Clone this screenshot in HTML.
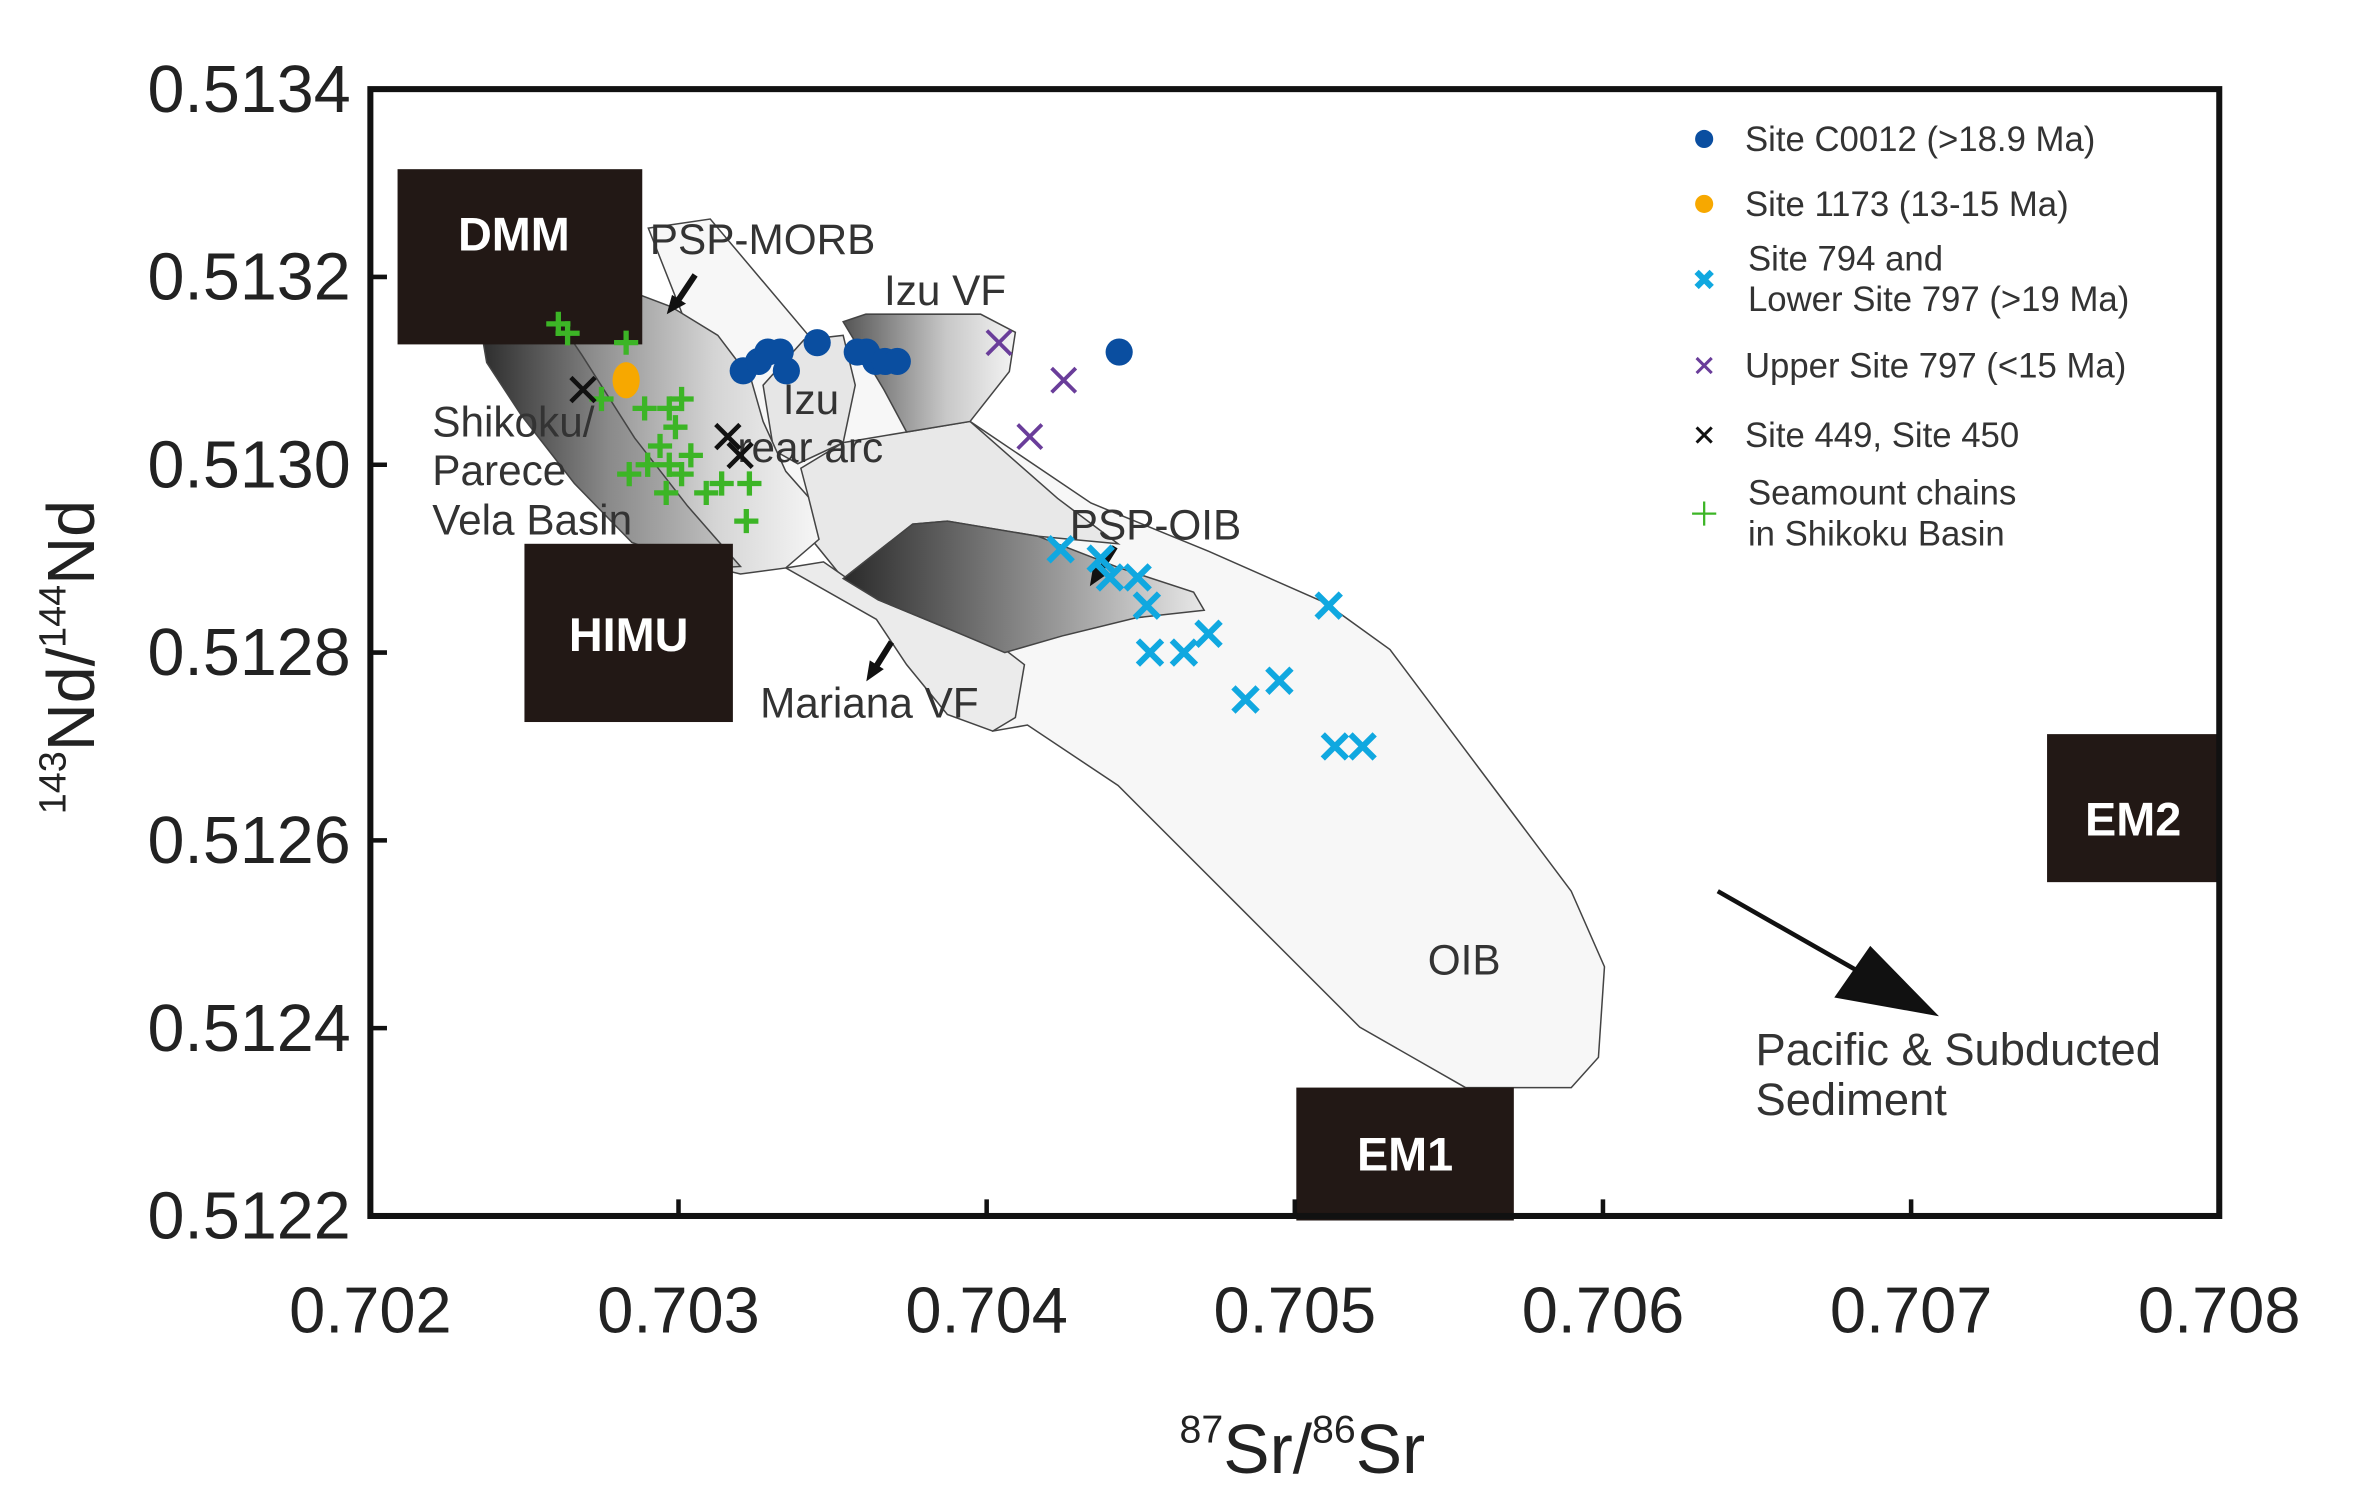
<!DOCTYPE html>
<html><head><meta charset="utf-8"><style>
html,body{margin:0;padding:0;background:#fff;}
svg{display:block;font-family:"Liberation Sans",Arial,sans-serif;}
</style></head><body>
<svg id="chart" width="2357" height="1506" viewBox="0 0 1560 997" xmlns="http://www.w3.org/2000/svg">
<defs>
<linearGradient id="gDark" x1="0" y1="0" x2="1" y2="0"><stop offset="0" stop-color="#2a2a2a"/><stop offset="0.5" stop-color="#8a8a8a"/><stop offset="1" stop-color="#c8c8c8"/></linearGradient>
<linearGradient id="gMid" x1="0" y1="0" x2="1" y2="0"><stop offset="0" stop-color="#777"/><stop offset="0.6" stop-color="#d4d4d4"/><stop offset="1" stop-color="#f6f6f6"/></linearGradient>
<linearGradient id="gIzu" x1="0" y1="0" x2="1" y2="0"><stop offset="0" stop-color="#555"/><stop offset="0.6" stop-color="#c8c8c8"/><stop offset="1" stop-color="#f4f4f4"/></linearGradient>
<linearGradient id="gOib" x1="0" y1="0" x2="1" y2="0"><stop offset="0" stop-color="#2a2a2a"/><stop offset="0.6" stop-color="#9a9a9a"/><stop offset="1" stop-color="#e8e8e8"/></linearGradient>
</defs>
<rect x="0" y="0" width="1560" height="997" fill="#fff"/>
<g id="fields">
<path d="M429,151 L470,145 L535,222 L642,279 L722,333 L800,365 L877,399 L920,430 L980,510 L1040,590 L1062,640 L1058,700 L1040,720 L970,720 L900,680 L820,600 L740,520 L680,480 L657,484 L620,440 L560,385 L537,357 L520,330 L480,280 Z" fill="#f7f7f7" stroke="#444" stroke-width="1"/>
<path d="M530,310 L558,293 L600,286 L642,279 L700,330 L740,360 L687,355 L627,345 L604,347 L558,383 L537,357 L535,329 Z" fill="#e8e8e8" stroke="#444" stroke-width="1"/>
<path d="M520,376 L545,372 L581,397 L627,416 L665,430 L678,440 L672,475 L657,484 L627,473 L600,440 L580,410 Z" fill="#ebebeb" stroke="#444" stroke-width="1"/>
<path d="M505,255 L532,225 L558,222 L566,255 L558,293 L528,307 L512,298 Z" fill="#e6e6e6" stroke="#444" stroke-width="1"/>
<path d="M558,213 L573,208 L649,208 L672,220 L668,246 L642,279 L600,286 L585,258 Z" fill="url(#gIzu)" stroke="#444" stroke-width="1"/>
<path d="M558,383 L604,347 L627,345 L687,355 L741,376 L790,392 L797,404 L752,409 L703,421 L665,432 L627,416 L581,397 Z" fill="url(#gOib)" stroke="#444" stroke-width="1"/>
<path d="M368,190 L399,186 L444,203 L475,222 L497,251 L505,279 L520,312 L535,329 L542,357 L520,376 L490,380 L444,369 L418,359 L395,320 L380,260 L368,220 Z" fill="url(#gMid)" stroke="#444" stroke-width="1"/>
<path d="M316,205 L360,198 L385,235 L420,290 L455,335 L490,375 L470,376 L444,369 L418,359 L380,320 L345,275 L322,240 Z" fill="url(#gDark)" stroke="#444" stroke-width="1"/>
</g>
<g id="endmembers">
<rect x="263" y="112" width="162" height="116" fill="#221815"/>
<text x="340" y="166" fill="#fff" font-size="31" font-weight="bold" text-anchor="middle">DMM</text>
<rect x="347" y="360" width="138" height="118" fill="#221815"/>
<text x="416" y="431" fill="#fff" font-size="31" font-weight="bold" text-anchor="middle">HIMU</text>
<rect x="858" y="720" width="144" height="88" fill="#221815"/>
<text x="930" y="775" fill="#fff" font-size="31" font-weight="bold" text-anchor="middle">EM1</text>
<rect x="1355" y="486" width="113" height="98" fill="#221815"/>
<text x="1412" y="553" fill="#fff" font-size="31" font-weight="bold" text-anchor="middle">EM2</text>
</g>
<g id="labels" fill="#333" font-size="28">
<text x="430" y="168">PSP-MORB</text>
<text x="585" y="202">Izu VF</text>
<text x="518" y="274">Izu</text>
<text x="488" y="306">rear arc</text>
<text x="286" y="289">Shikoku/</text>
<text x="286" y="321">Parece</text>
<text x="286" y="354">Vela Basin</text>
<text x="708" y="357">PSP-OIB</text>
<text x="503" y="475">Mariana VF</text>
<text x="945" y="645">OIB</text>
<text x="1162" y="705" font-size="30">Pacific &amp; Subducted</text>
<text x="1162" y="738" font-size="30">Sediment</text>
</g>
<g id="arrows" stroke="#111" fill="#111">
<line x1="460" y1="182" x2="448" y2="200" stroke-width="4"/><polygon points="442,207 445,196 453,201"/>
<line x1="738" y1="362" x2="728" y2="378" stroke-width="4"/><polygon points="722,387 724,375 732,380"/>
<line x1="590" y1="425" x2="580" y2="441" stroke-width="4"/><polygon points="574,450 576,438 584,443"/>
<line x1="1137" y1="590" x2="1230" y2="643" stroke-width="3"/>
<polygon points="1282,672 1215,660 1238,627"/>
</g>
<g id="axes"></g>
<g id="points"></g>
<g id="legend" font-size="23" fill="#333"></g>
</svg>
<script>
const xTicks = [0.702, 0.703, 0.704, 0.705, 0.706, 0.707, 0.708];
const yTicks = [0.5122, 0.5124, 0.5126, 0.5128, 0.5130, 0.5132, 0.5134];
const c0012X = [0.70321,0.70326,0.70329,0.70333,0.70335,0.70345,0.70361,0.70364,0.70367,0.70371,0.70358,0.70443];
const c0012Y = [0.51310,0.51311,0.51312,0.51312,0.51310,0.51313,0.51312,0.51311,0.51311,0.51311,0.51312,0.51312];
const s1173X = [0.70283];
const s1173Y = [0.51309];
const s794X = [0.70424,0.70440,0.70449,0.70452,0.70453,0.70464,0.70472,0.70484,0.70495,0.70511,0.70513,0.70522,0.70437];
const s794Y = [0.51291,0.51288,0.51288,0.51285,0.51280,0.51280,0.51282,0.51275,0.51277,0.51285,0.51270,0.51270,0.51290];
const upperX = [0.70404,0.70425,0.70414];
const upperY = [0.51313,0.51309,0.51303];
const s449X = [0.70269,0.70316,0.70320];
const s449Y = [0.51308,0.51303,0.51301];
const smX = [0.70261,0.70264,0.70283,0.70275,0.70289,0.70297,0.70301,0.70299,0.70294,0.70290,0.70297,0.70301,0.70309,0.70314,0.70323,0.70322,0.70284,0.70296,0.70304];
const smY = [0.51315,0.51314,0.51313,0.51307,0.51306,0.51306,0.51307,0.51304,0.51302,0.51300,0.51300,0.51299,0.51297,0.51298,0.51298,0.51294,0.51299,0.51297,0.51301];

const L=245,R=1469,T=59,B=805;
const xs=v=>L+(v-0.702)/(0.006)*(R-L);
const ys=v=>B-(v-0.5122)/(0.0012)*(B-T);
const NS='http://www.w3.org/2000/svg';
function mk(tag,attrs,parent,text){const e=document.createElementNS(NS,tag);for(const k in attrs)e.setAttribute(k,attrs[k]);if(text!==undefined)e.textContent=text;parent.appendChild(e);return e;}
const ax=document.getElementById('axes');
const frame=mk('rect',{x:L,y:T,width:R-L,height:B-T,fill:'none',stroke:'#111','stroke-width':4},ax);


xTicks.forEach(t=>{const x=xs(t);
 mk('line',{x1:x,y1:B,x2:x,y2:B-11,stroke:'#111','stroke-width':3},ax);
 const lb=mk('text',{x:x,y:882,'font-size':43,'text-anchor':'middle',fill:'#222'},ax,t.toFixed(3));
 
 
});
yTicks.forEach(t=>{const y=ys(t);
 mk('line',{x1:L,y1:y,x2:L+11,y2:y,stroke:'#111','stroke-width':3},ax);
 const lb=mk('text',{x:232,y:y+15,'font-size':44,'text-anchor':'end',fill:'#222'},ax,t.toFixed(4));
 
 
});
const xt=mk('text',{x:862,y:975,'font-size':46,'text-anchor':'middle',fill:'#222'},ax);


xt.innerHTML='<tspan font-size="26" dy="-20">87</tspan><tspan dy="20">Sr/</tspan><tspan font-size="26" dy="-20">86</tspan><tspan dy="20">Sr</tspan>';
const yt=mk('text',{x:0,y:0,'font-size':44,'text-anchor':'middle',fill:'#222',transform:'translate(62,435) rotate(-90)'},ax);


yt.innerHTML='<tspan font-size="25" dy="-19">143</tspan><tspan dy="19">Nd/</tspan><tspan font-size="25" dy="-19">144</tspan><tspan dy="19">Nd</tspan>';

const pts=document.getElementById('points');
function dot(x,y,r,c,g){return mk('circle',{cx:x,cy:y,r:r,fill:c},g);}
function cross(x,y,s,c,w,g){return mk('path',{d:`M${x-s},${y-s}L${x+s},${y+s}M${x+s},${y-s}L${x-s},${y+s}`,stroke:c,'stroke-width':w,fill:'none'},g);}
function plus(x,y,s,c,w,g){return mk('path',{d:`M${x-s},${y}L${x+s},${y}M${x},${y-s}L${x},${y+s}`,stroke:c,'stroke-width':w,fill:'none'},g);}
smX.forEach((v,i)=>{const m=plus(xs(v),ys(smY[i]),8,'#3cb526',3.5,pts);
 
 });
c0012X.forEach((v,i)=>{const m=dot(xs(v),ys(c0012Y[i]),9,'#0a4ea0',pts);
 
 });
s1173X.forEach((v,i)=>{const m=mk('ellipse',{cx:xs(v),cy:ys(s1173Y[i]),rx:9,ry:12,fill:'#f7a800'},pts);
 
 });
s794X.forEach((v,i)=>{const m=cross(xs(v),ys(s794Y[i]),8,'#10a8e0',4,pts);
 
 });
upperX.forEach((v,i)=>{const m=cross(xs(v),ys(upperY[i]),8,'#6a3d9a',2.5,pts);
 
 });
s449X.forEach((v,i)=>{const m=cross(xs(v),ys(s449Y[i]),8,'#111',3,pts);
 
 });

const lg=document.getElementById('legend');
const entries=[
 ['legend-c0012',92,['Site C0012 (>18.9 Ma)'],'dot','#0a4ea0'],
 ['legend-1173',135,['Site 1173 (13-15 Ma)'],'dot','#f7a800'],
 ['legend-794',185,['Site 794 and','Lower Site 797 (>19 Ma)'],'xb','#10a8e0'],
 ['legend-upper797',242,['Upper Site 797 (<15 Ma)'],'x','#6a3d9a'],
 ['legend-449',288,['Site 449, Site 450'],'x','#111'],
 ['legend-seamount',340,['Seamount chains','in Shikoku Basin'],'plus','#3cb526']
];
entries.forEach(e=>{
 const g=mk('g',{},lg);
 
 
 const y=e[1];
 if(e[3]==='dot')dot(1128,y,6,e[4],g);
 else if(e[3]==='xb')cross(1128,y,5,e[4],4,g);
 else if(e[3]==='x')cross(1128,y,5,e[4],2,g);
 else plus(1128,y,8,e[4],1.5,g);
 if(e[2].length===1)mk('text',{x:1155,y:y+8},g,e[2][0]);
 else{mk('text',{x:1157,y:y-6},g,e[2][0]);mk('text',{x:1157,y:y+21},g,e[2][1]);}
});
</script>
</body></html>
